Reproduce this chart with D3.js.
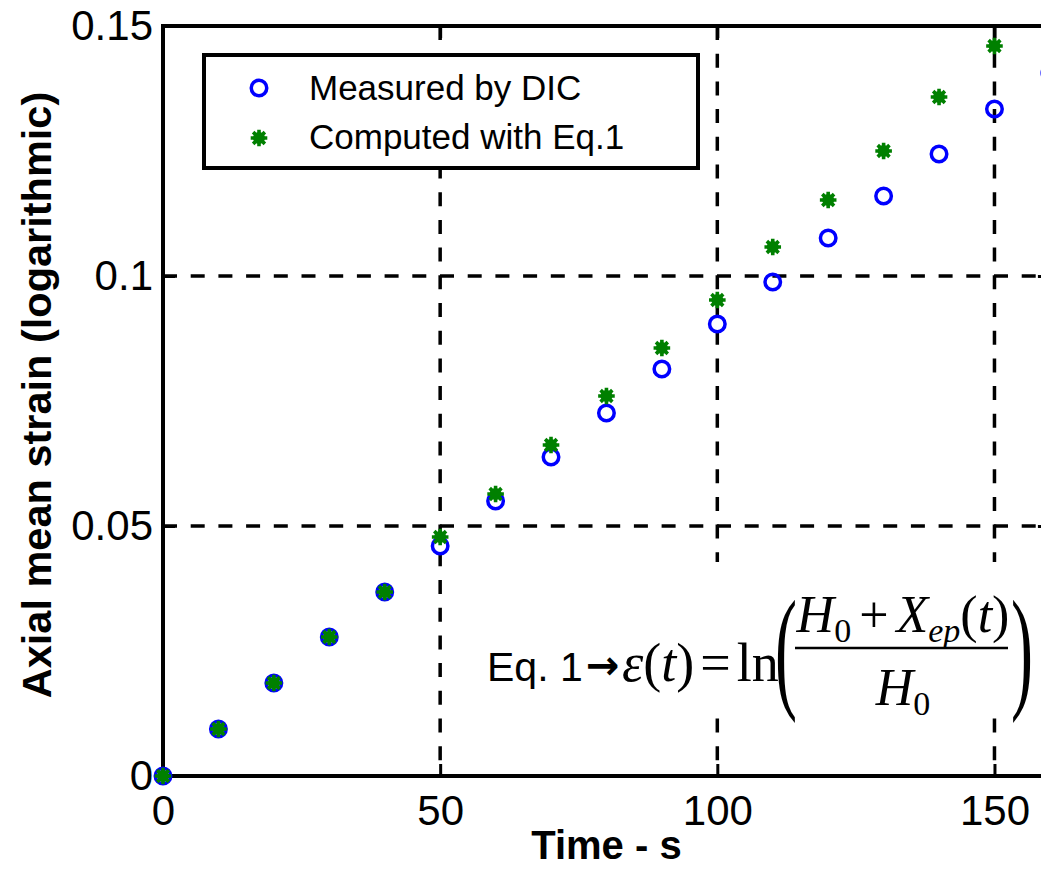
<!DOCTYPE html>
<html>
<head>
<meta charset="utf-8">
<script src="https://cdn.jsdelivr.net/npm/d3@7"></script>
<style>
  body { margin: 0; background: #fff; }
  svg { display: block; }
</style>
</head>
<body>
<svg id="chart" width="1041" height="870"></svg>
<script>
// Sampling instants (s)
const timeSteps = [0, 10, 20, 30, 40, 50, 60, 70, 80, 90, 100, 110, 120, 130, 140, 150, 160];
// Axial mean strain measured by DIC (one value per time step)
const measuredStrain = [0, 0.0094, 0.0186, 0.0278, 0.0368, 0.0460, 0.0550, 0.0638, 0.0726, 0.0814,
                        0.0904, 0.0988, 0.1076, 0.1160, 0.1244, 0.1334, 0.1406];
// Strain computed with Eq. 1 (up to 150 s)
const computedStrain = [0, 0.0094, 0.0186, 0.0278, 0.0368, 0.0478, 0.0564, 0.0662, 0.0760, 0.0856,
                        0.0952, 0.1058, 0.1152, 0.1250, 0.1358, 0.1460];
const xTicks = [0, 50, 100, 150];
const yTicks = [0, 0.05, 0.1, 0.15];
const seriesNames = ["Measured by DIC", "Computed with Eq.1"];
const xTitle = "Time - s";
const yTitle = "Axial mean strain (logarithmic)";

const SANS = "'Liberation Sans', Arial, Helvetica, sans-serif";
const SERIF = "'Liberation Serif', 'Times New Roman', Times, serif";
const BLUE = "#0000ff";
const GREEN = "#008000";

const svg = d3.select("#chart");
const plot = { left: 163, top: 26, right: 1049.9, bottom: 776 };

const x = d3.scaleLinear().domain([0, 160]).range([plot.left, plot.right]);
const y = d3.scaleLinear().domain([0, 0.15]).range([plot.bottom, plot.top]);

// Dashed grid
const grid = svg.append("g").attr("stroke", "#000").attr("stroke-width", 3.5)
  .attr("stroke-dasharray", "14,13.7");
grid.selectAll("line.vx").data(xTicks.filter(d => d > 0)).join("line")
  .attr("x1", d => x(d)).attr("x2", d => x(d))
  .attr("y1", plot.top).attr("y2", plot.bottom);
grid.selectAll("line.hy").data(yTicks.filter(d => d > 0 && d < 0.15)).join("line")
  .attr("x1", plot.left).attr("x2", plot.right)
  .attr("y1", d => y(d)).attr("y2", d => y(d));

// Axes with inward ticks
const tickFont = g => g.selectAll("text")
  .attr("font-family", SANS).attr("font-size", 42).attr("fill", "#000");
const styleAxis = g => {
  g.select(".domain").remove();
  g.selectAll(".tick line").attr("stroke", "#000").attr("stroke-width", 3);
};

svg.append("g").attr("transform", `translate(0,${plot.bottom})`)
  .call(d3.axisBottom(x).tickValues(xTicks).tickFormat(d3.format("d"))
        .tickSizeInner(-12).tickSizeOuter(0).tickPadding(19))
  .call(styleAxis).call(tickFont);
svg.append("g").attr("transform", `translate(${plot.left},0)`)
  .call(d3.axisLeft(y).tickValues(yTicks).tickFormat(d => d === 0 ? "0" : String(d))
        .tickSizeInner(-12).tickSizeOuter(0).tickPadding(10))
  .call(styleAxis).call(tickFont);
svg.append("g").attr("transform", `translate(0,${plot.top})`)
  .call(d3.axisTop(x).tickValues(xTicks).tickFormat("").tickSizeInner(-12).tickSizeOuter(0))
  .call(styleAxis);
svg.append("g").attr("transform", `translate(${plot.right},0)`)
  .call(d3.axisRight(y).tickValues(yTicks).tickFormat("").tickSizeInner(-12).tickSizeOuter(0))
  .call(styleAxis);

// Axes box
svg.append("rect")
  .attr("x", plot.left).attr("y", plot.top)
  .attr("width", plot.right - plot.left).attr("height", plot.bottom - plot.top)
  .attr("fill", "none").attr("stroke", "#000").attr("stroke-width", 4);

// Axis titles
svg.append("text")
  .attr("x", (plot.left + plot.right) / 2).attr("y", 859)
  .attr("text-anchor", "middle")
  .attr("font-family", SANS).attr("font-weight", "bold").attr("font-size", 40)
  .text(xTitle);
svg.append("text")
  .attr("transform", `translate(51,395) rotate(-90)`)
  .attr("text-anchor", "middle")
  .attr("font-family", SANS).attr("font-weight", "bold").attr("font-size", 41.5)
  .text(yTitle);

// Equation annotation (white panel over the grid)
const eq = svg.append("g");
eq.append("rect").attr("x", 478).attr("y", 562).attr("width", 580).attr("height", 156)
  .attr("fill", "#fff");
eq.append("text").attr("x", 487).attr("y", 681)
  .attr("font-family", SANS).attr("font-size", 41).text("Eq. 1");
eq.append("text").attr("x", 586).attr("y", 679)
  .attr("font-family", "'DejaVu Sans', sans-serif").attr("font-weight", "bold").attr("font-size", 40)
  .text("→");
const lhs = eq.append("text").attr("x", 622).attr("y", 681)
  .attr("font-family", SERIF).attr("font-size", 54);
lhs.append("tspan").attr("font-style", "italic").text("ε");
lhs.append("tspan").text("(");
lhs.append("tspan").attr("font-style", "italic").text("t");
lhs.append("tspan").text(")");
lhs.append("tspan").attr("dx", 6).text("=");
lhs.append("tspan").attr("dx", 6).text("ln");

// Fraction
const num = eq.append("text").attr("x", 903).attr("y", 632).attr("text-anchor", "middle")
  .attr("font-family", SERIF).attr("font-size", 52);
num.append("tspan").attr("font-style", "italic").text("H");
num.append("tspan").attr("font-size", 34).attr("dy", 10).text("0");
num.append("tspan").attr("dy", -10).attr("dx", 8).text("+");
num.append("tspan").attr("dx", 8).attr("font-style", "italic").text("X");
num.append("tspan").attr("font-size", 34).attr("font-style", "italic").attr("dy", 10).text("ep");
num.append("tspan").attr("dy", -10).text("(");
num.append("tspan").attr("font-style", "italic").text("t");
num.append("tspan").text(")");
eq.append("line").attr("x1", 795).attr("x2", 1008).attr("y1", 648).attr("y2", 648)
  .attr("stroke", "#000").attr("stroke-width", 2.5);
const den = eq.append("text").attr("x", 903).attr("y", 705).attr("text-anchor", "middle")
  .attr("font-family", SERIF).attr("font-size", 52);
den.append("tspan").attr("font-style", "italic").text("H");
den.append("tspan").attr("font-size", 34).attr("dy", 10).text("0");

// Tall parentheses fitted to a box
function bigParen(ch, x0, x1, y0, y1) {
  const t = eq.append("text").attr("font-family", SERIF).attr("font-size", 60).text(ch);
  const b = t.node().getBBox();
  const sx = (x1 - x0) / b.width, sy = (y1 - y0) / b.height;
  t.attr("transform", `translate(${x0 - b.x * sx},${y0 - b.y * sy}) scale(${sx},${sy})`);
}
bigParen("(", 775, 797, 575, 723);
bigParen(")", 1011, 1033, 575, 723);

// Legend
const legend = svg.append("g");
legend.append("rect").attr("x", 204).attr("y", 55).attr("width", 494).attr("height", 113)
  .attr("fill", "#fff").attr("stroke", "#000").attr("stroke-width", 4);

// Marker drawers
function circleMarker(g, cx, cy) {
  g.append("circle").attr("cx", cx).attr("cy", cy).attr("r", 7.75)
    .attr("fill", "none").attr("stroke", BLUE).attr("stroke-width", 3.5);
}
const starPath = (() => {
  const p = d3.path(), r = 8.3;
  for (let k = 0; k < 4; k++) {
    const a = k * Math.PI / 4;
    p.moveTo(-r * Math.cos(a), -r * Math.sin(a));
    p.lineTo(r * Math.cos(a), r * Math.sin(a));
  }
  return p.toString();
})();
function starMarker(g, cx, cy) {
  const s = g.append("g").attr("transform", `translate(${cx},${cy})`);
  s.append("circle").attr("r", 6).attr("fill", GREEN);
  s.append("path").attr("d", starPath).attr("stroke", GREEN).attr("stroke-width", 3.6);
}

circleMarker(legend, 259, 88);
starMarker(legend, 259, 138);
legend.selectAll("text").data(seriesNames).join("text")
  .attr("x", 309).attr("y", (d, i) => 100 + i * 49)
  .attr("font-family", SANS).attr("font-size", 35).text(d => d);

// Data markers
const marks = svg.append("g");
measuredStrain.forEach((v, i) => circleMarker(marks, x(timeSteps[i]), y(v)));
computedStrain.forEach((v, i) => starMarker(marks, x(timeSteps[i]), y(v)));
</script>
</body>
</html>
